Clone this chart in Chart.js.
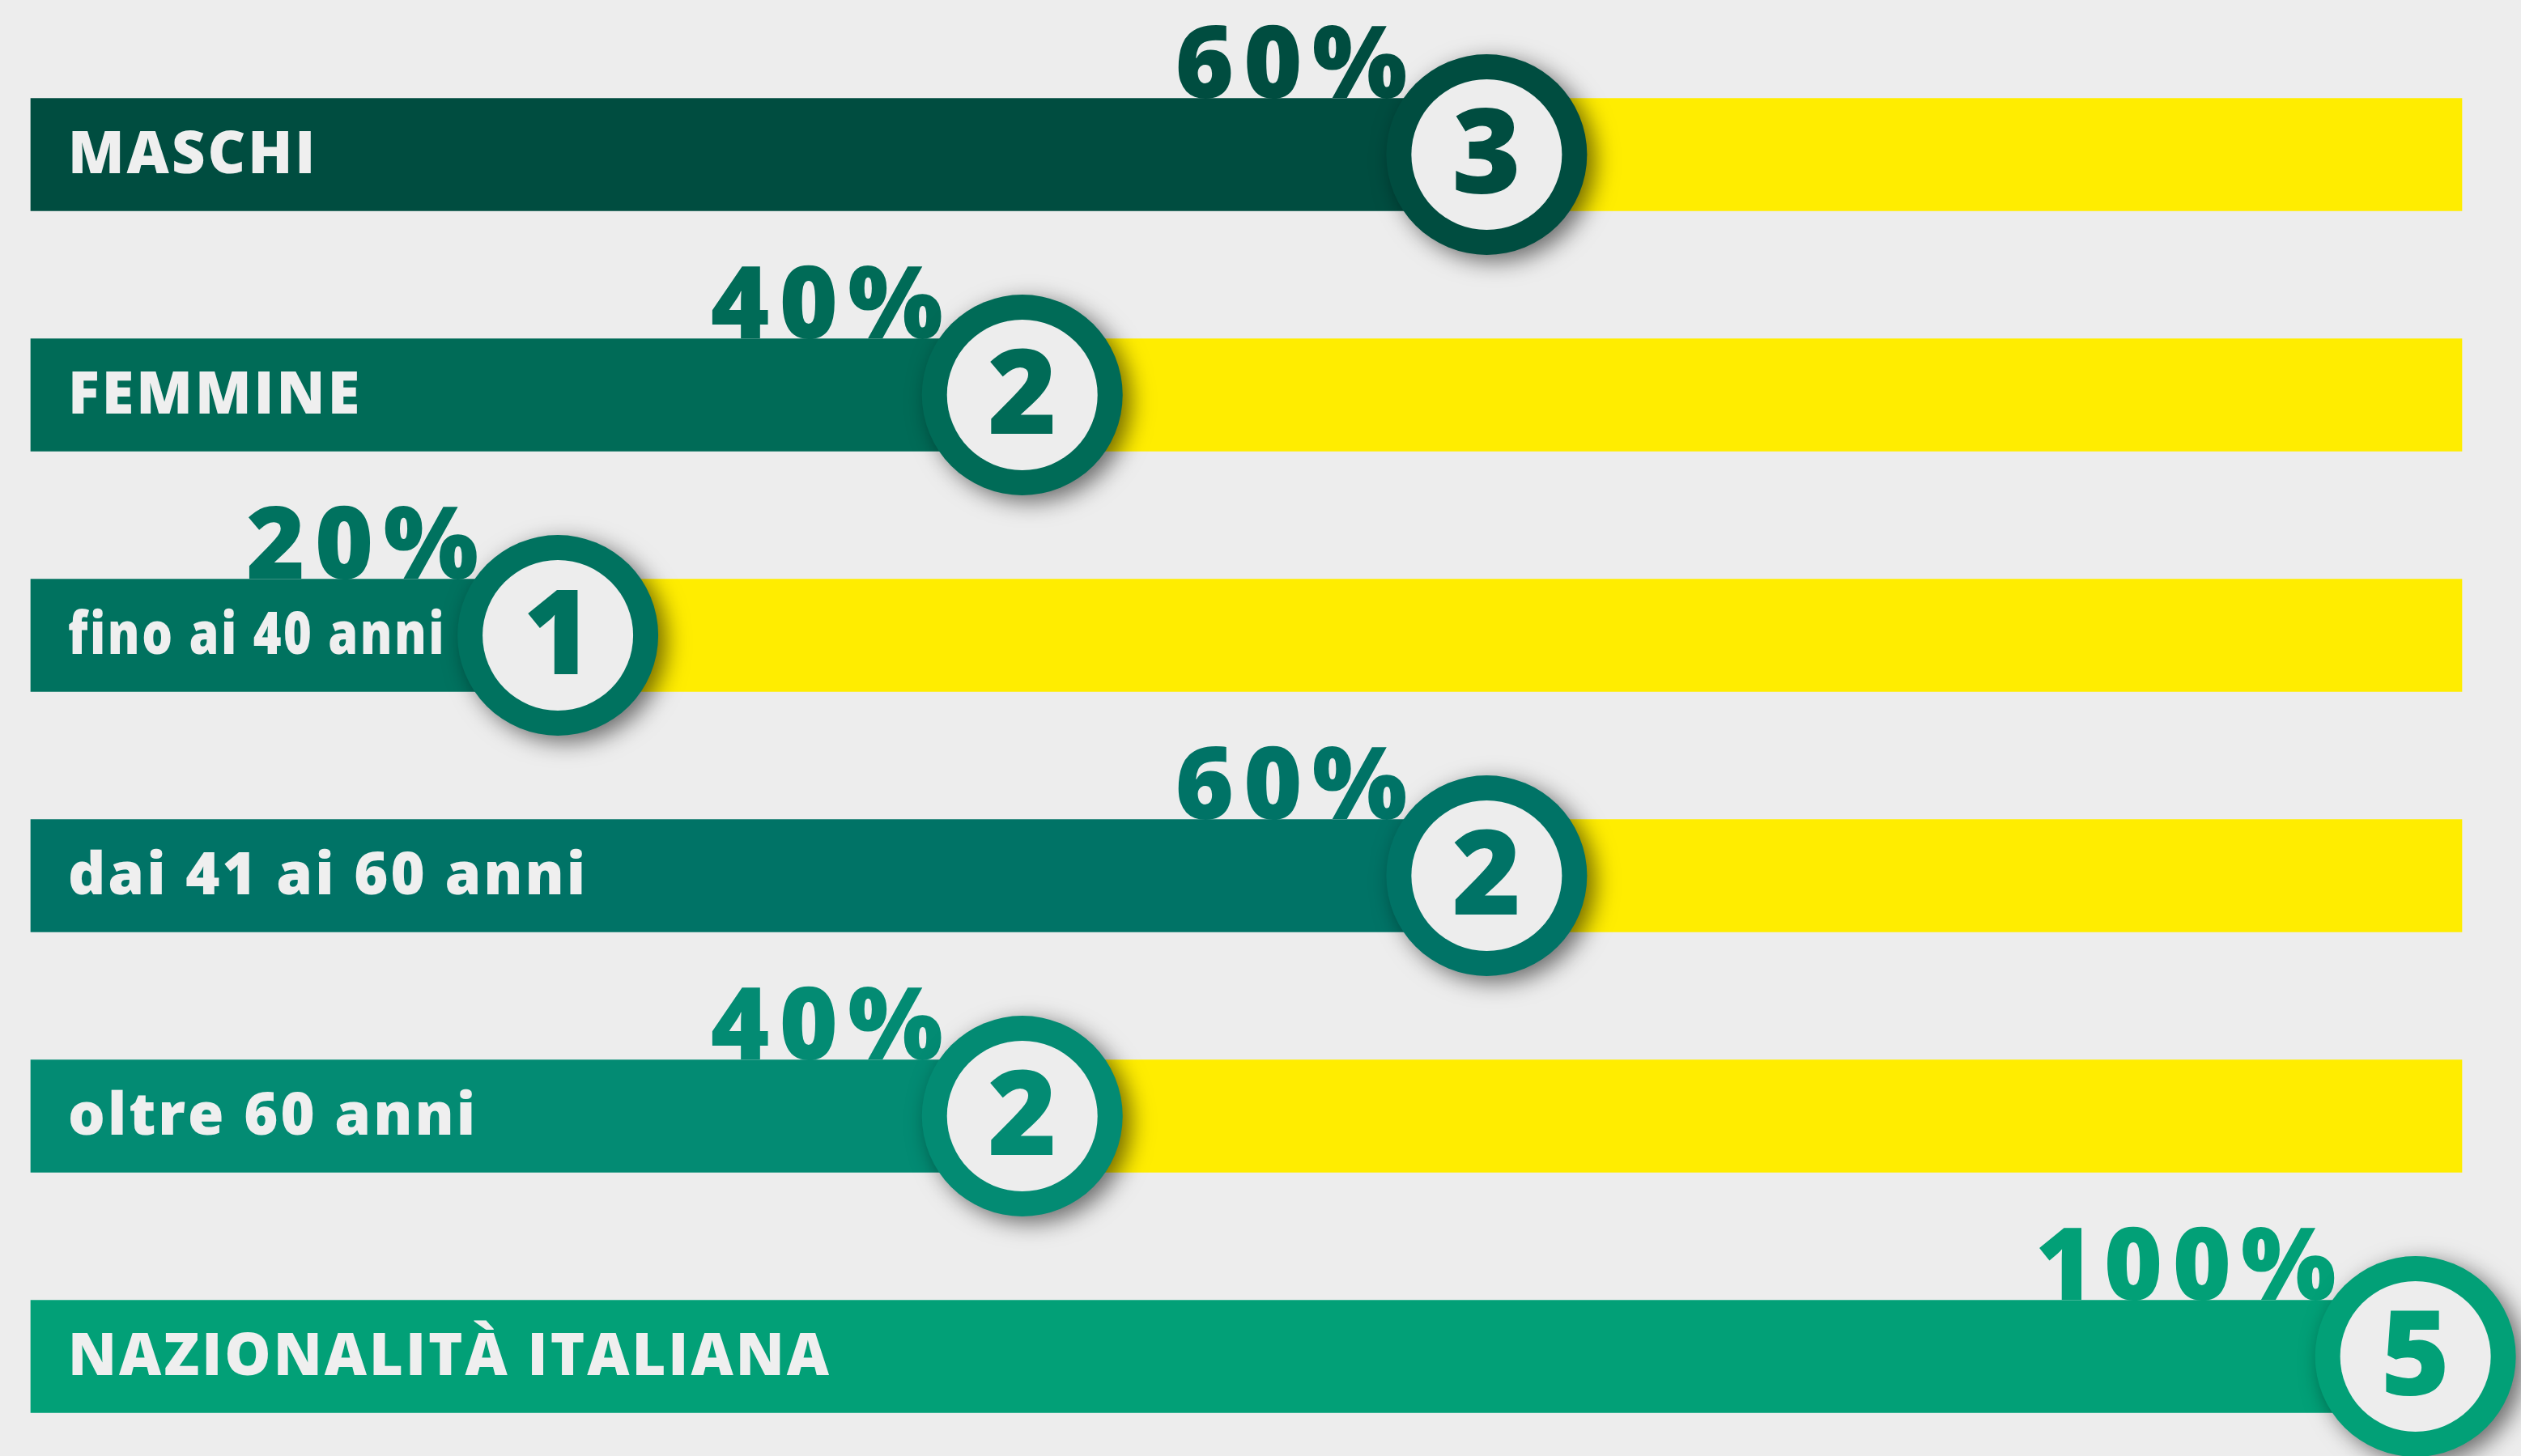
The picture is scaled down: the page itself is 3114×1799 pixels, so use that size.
<!DOCTYPE html>
<html>
<head>
<meta charset="utf-8">
<script src="https://cdn.jsdelivr.net/npm/chart.js@4"></script>
<style>
  html, body { margin: 0; padding: 0; background: #EDEDED; }
  #wrap { width: 3114px; height: 1799px; }
</style>
</head>
<body>
<div id="wrap"><canvas id="c" width="3114" height="1799"></canvas></div>
<script>
// ---- data ----
const categories = ['MASCHI', 'FEMMINE', 'fino ai 40 anni', 'dai 41 ai 60 anni', 'oltre 60 anni', 'NAZIONALITÀ ITALIANA'];
const percentages = [60, 40, 20, 60, 40, 100];
const counts = [3, 2, 1, 2, 2, 5];
const barColors = ['#004D40', '#006B57', '#00725F', '#007366', '#038B73', '#02A077'];
const trackColor = '#FFED00';
const AXIS_MIN = -2.7;
const AXIS_MAX = 102;

const barData = percentages.map(v => [AXIS_MIN, v]);
const trackData = percentages.map(v => [v, AXIS_MAX]);

const RING_R = 124;
const overlay = {
  id: 'overlay',
  afterDatasetsDraw(chart) {
    const ctx = chart.ctx;
    const xs = chart.scales.x, ys = chart.scales.y;
    const half = 139 / 2;
    for (let i = 0; i < categories.length; i++) {
      const cx = xs.getPixelForValue(percentages[i]);
      const cy = ys.getPixelForValue(i);
      const col = barColors[i];
      // label inside bar
      ctx.save();
      ctx.fillStyle = '#EFEFEF';
      ctx.font = '800 72px "Open Sans"';
      ctx.textAlign = 'left';
      ctx.textBaseline = 'middle';
      ctx.letterSpacing = '3px';
      const lx = chart.chartArea.left + 46;
      const w = ctx.measureText(categories[i]).width;
      const avail = cx - RING_R - 14 - lx;
      if (w > avail) {
        ctx.translate(lx, cy + 2);
        ctx.scale(avail / w, 1);
        ctx.fillText(categories[i], 0, 0);
      } else {
        ctx.fillText(categories[i], lx, cy + 2);
      }
      ctx.restore();
      // percentage above bar
      ctx.save();
      ctx.fillStyle = col;
      ctx.font = '800 124px "Open Sans"';
      ctx.textAlign = 'right';
      ctx.textBaseline = 'alphabetic';
      ctx.letterSpacing = '12px';
      ctx.fillText(percentages[i] + '%', cx - 86, cy - half - 1);
      ctx.restore();
      // circle with shadow
      ctx.save();
      ctx.shadowColor = 'rgba(0,0,0,0.55)';
      ctx.shadowBlur = 28;
      ctx.shadowOffsetX = 10;
      ctx.shadowOffsetY = 8;
      ctx.beginPath();
      ctx.arc(cx, cy, RING_R, 0, Math.PI * 2);
      ctx.fillStyle = col;
      ctx.fill();
      ctx.restore();
      ctx.save();
      ctx.beginPath();
      ctx.arc(cx, cy, 93, 0, Math.PI * 2);
      ctx.fillStyle = '#EDEDED';
      ctx.fill();
      ctx.fillStyle = col;
      ctx.font = '800 146px "Open Sans"';
      ctx.textAlign = 'center';
      ctx.textBaseline = 'middle';
      ctx.fillText(String(counts[i]), cx, cy + 6);
      ctx.restore();
    }
  }
};

new Chart(document.getElementById('c'), {
  type: 'bar',
  data: {
    labels: categories,
    datasets: [
      {
        label: 'Percentuale',
        data: barData,
        backgroundColor: barColors,
        borderWidth: 0,
        barThickness: 139,
        grouped: false,
        clip: false,
        order: 0
      },
      {
        label: 'Resto',
        data: trackData,
        backgroundColor: trackColor,
        borderWidth: 0,
        barThickness: 139,
        grouped: false,
        clip: false,
        order: 1
      }
    ]
  },
  options: {
    indexAxis: 'y',
    responsive: false,
    animation: false,
    layout: { padding: { left: 38, right: 73, top: 191, bottom: 123 } },
    plugins: { legend: { display: false }, tooltip: { enabled: false } },
    scales: {
      x: { display: false, min: AXIS_MIN, max: AXIS_MAX },
      y: { display: false, offset: false }
    }
  },
  plugins: [overlay]
});
</script>
</body>
</html>
